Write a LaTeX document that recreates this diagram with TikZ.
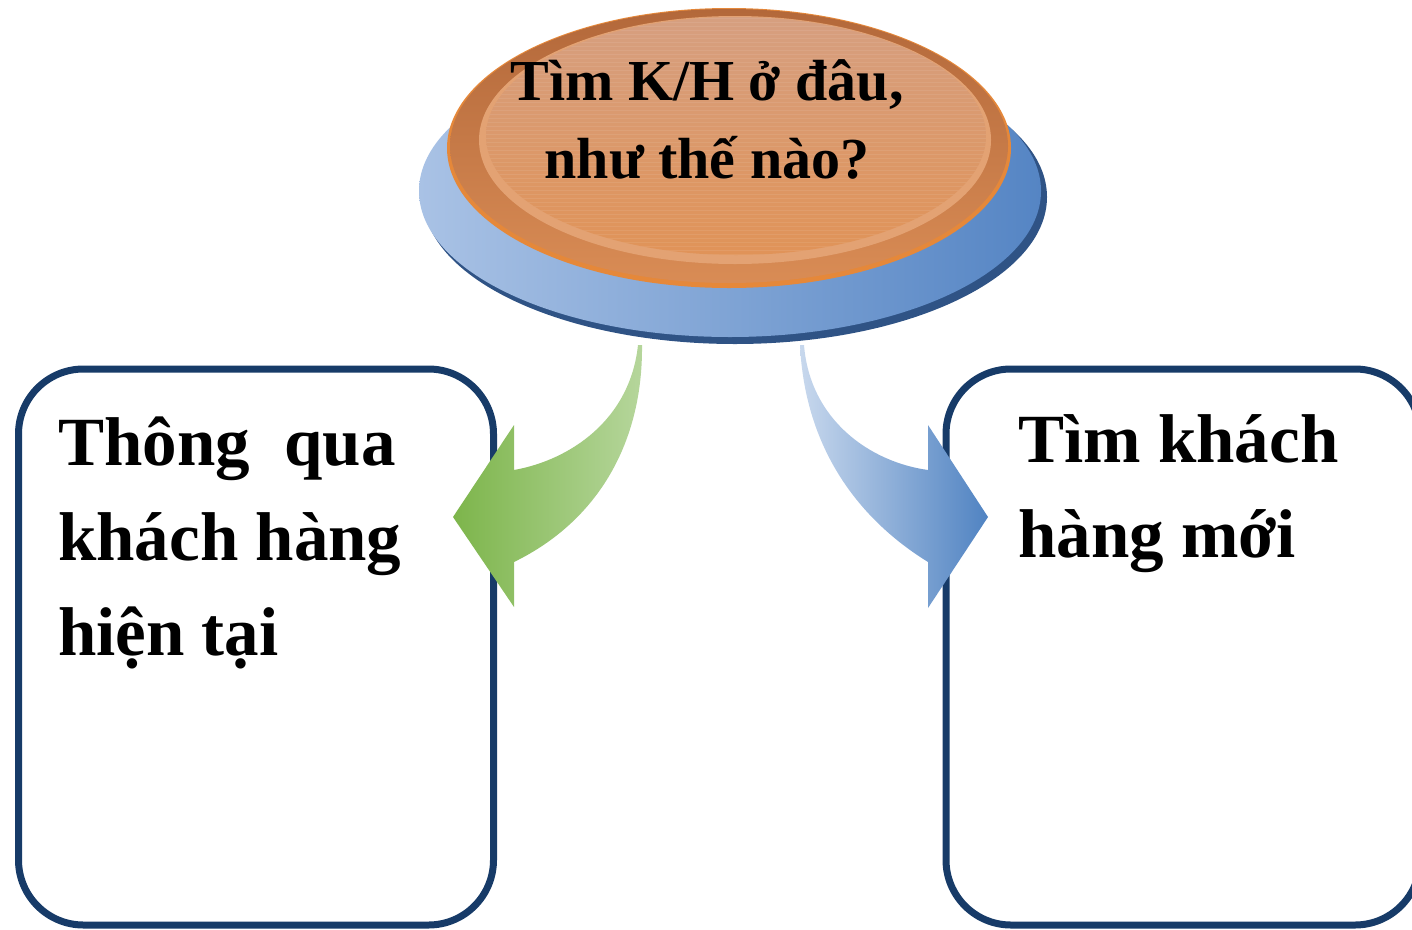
\documentclass[tikz,border=0pt]{standalone}
\usepackage{fontspec}
\setmainfont{Liberation Serif}
\usetikzlibrary{positioning}
\definecolor{kbnavy}{HTML}{173B68}
\definecolor{kbbluel}{HTML}{A9C2E5}
\definecolor{kbblued}{HTML}{5585C4}
\definecolor{kbbluerim}{HTML}{2F5385}
\definecolor{kbedge}{HTML}{E5883A}
\definecolor{kbrimhi}{HTML}{B3683A}
\definecolor{kbrimlo}{HTML}{D98C55}
\definecolor{kbband}{HTML}{E3A273}
\definecolor{kbfacehi}{HTML}{D69F80}
\definecolor{kbfacelo}{HTML}{E09358}
\definecolor{kbgreend}{HTML}{7DB54B}
\definecolor{kbgreenl}{HTML}{B6D69C}
\definecolor{kbarrowl}{HTML}{C8D8ED}
\definecolor{kbarrowd}{HTML}{5083C2}
\tikzset{
  card/.style={draw=kbnavy,line width=7pt,rounded corners=65pt,fill=white,inner sep=0pt,minimum height=556pt},
  cardtxt/.style={font=\bfseries\fontsize{69}{95}\selectfont,align=left,inner sep=0pt,anchor=base west},
  disctxt/.style={font=\bfseries\fontsize{58}{78}\selectfont,align=center,inner sep=0pt,anchor=base},
}
\begin{document}
\begin{tikzpicture}[x=1pt,y=-1pt]
  \useasboundingbox (0,0) rectangle (1412,929);
  % boxes
  \node[card,minimum width=475pt] (cur) at (256,647) {};
  \node[card,minimum width=474pt] (new) at (1183,647) {};
  % base anchor = last line
  \node[cardtxt] (curtxt) at (58,655) {Thông\ \ qua\\khách hàng\\hiện tại};
  \node[cardtxt] (newtxt) at (1018,557) {Tìm khách\\hàng mới};
  % curved arrows
  \shade[left color=kbgreend,right color=kbgreenl] (642,345) .. controls (643,440) and (600,520) .. (514,562)
    -- (514,607) -- (453,517) -- (514,425) -- (514,470) .. controls (570,460) and (630,420) .. (638,345) -- cycle;
  \shade[left color=kbarrowl,right color=kbarrowd] (800,345) .. controls (805,450) and (860,520) .. (928,562)
    -- (928,608) -- (988,517) -- (928,425) -- (928,470) .. controls (870,462) and (810,420) .. (804,345) -- cycle;
  % disc
  \fill[kbbluerim] (735,197) ellipse[x radius=312,y radius=147];
  \shade[left color=kbbluel,right color=kbblued] (730,191) ellipse[x radius=311,y radius=146];
  \fill[kbedge] (729,148) ellipse[x radius=282,y radius=140];
  \shade[top color=kbrimhi,bottom color=kbrimlo] (729,146) ellipse[x radius=279,y radius=137];
  \fill[kbband] (735,140) ellipse[x radius=256,y radius=124];
  \shade[top color=kbfacehi,bottom color=kbfacelo] (736,136) ellipse[x radius=250,y radius=119];
  \begin{scope}
    \clip (736,136) ellipse[x radius=250,y radius=119];
    \foreach \k in {0,...,60}
      \draw[white,opacity=.08,line width=1pt] (480,{18+4*\k}) -- (990,{18+4*\k});
  \end{scope}
  \node[disctxt] (q) at (707,178) {Tìm K/H ở đâu,\\như thế nào?};
\end{tikzpicture}
\end{document}
